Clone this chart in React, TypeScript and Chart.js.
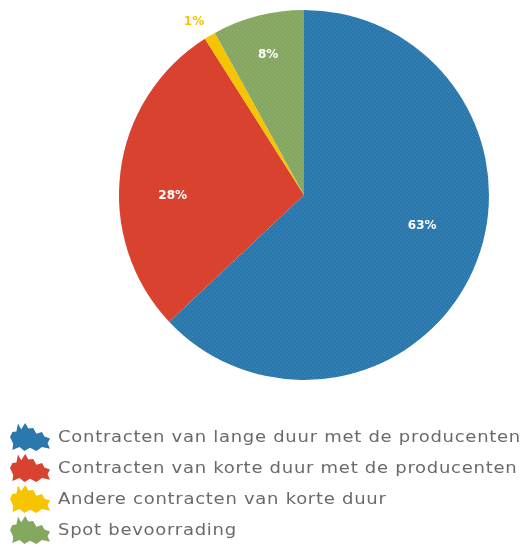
import React, { useEffect, useRef } from "react";
import { Chart, registerables } from "chart.js";

Chart.register(...registerables);

const categories = [
  "Contracten van lange duur met de producenten",
  "Contracten van korte duur met de producenten",
  "Andere contracten van korte duur",
  "Spot bevoorrading",
];
const shares = [63, 28, 1, 8];
const valueLabels = ["63%", "28%", "1%", "8%"];

const baseColors = ["#2a78ad", "#d8422f", "#f6c400", "#85a860"];
const dotColors = ["#4b95c4", null, null, "#a2be83"];
const labelColors = ["#ffffff", "#ffffff", "#f6c400", "#ffffff"];
const labelRadius = [0.66, 0.71, 1.11, 0.78];
const labelAngleShift = [-8.8, -7.4, -1.8, 0];

function makePattern(base: string, dot: string | null): CanvasPattern | string {
  if (!dot) return base;
  const c = document.createElement("canvas");
  c.width = 4;
  c.height = 4;
  const x = c.getContext("2d")!;
  x.fillStyle = base;
  x.fillRect(0, 0, 4, 4);
  x.fillStyle = dot;
  x.globalAlpha = 0.6;
  x.fillRect(0, 0, 1, 1);
  x.fillRect(2, 2, 1, 1);
  const p = x.createPattern(c, "repeat");
  return p || base;
}

const blob = [
  [0, 0.5], [0.06, 0.32], [0.16, 0.3], [0.2, 0.02], [0.28, 0.22], [0.38, 0.0],
  [0.46, 0.2], [0.58, 0.18], [0.66, 0.38], [0.8, 0.32], [0.86, 0.48], [1.0, 0.55],
  [0.94, 0.72], [1.0, 0.92], [0.8, 0.86], [0.66, 1.0], [0.5, 0.88], [0.36, 1.0],
  [0.24, 0.86], [0.06, 0.96], [0.08, 0.74],
];

const labelPlugin = {
  id: "sliceLabels",
  afterDatasetsDraw(chart: any) {
    const ctx = chart.ctx as CanvasRenderingContext2D;
    const meta = chart.getDatasetMeta(0);
    ctx.save();
    ctx.font = "bold 12px 'DejaVu Sans', sans-serif";
    ctx.textAlign = "center";
    ctx.textBaseline = "middle";
    meta.data.forEach((arc: any, i: number) => {
      const mid = (arc.startAngle + arc.endAngle) / 2 + (labelAngleShift[i] * Math.PI) / 180;
      const r = arc.outerRadius * labelRadius[i];
      ctx.fillStyle = labelColors[i];
      ctx.fillText(valueLabels[i], arc.x + Math.cos(mid) * r, arc.y + Math.sin(mid) * r);
    });
    ctx.restore();
  },
};

const legendPlugin = {
  id: "blobLegend",
  afterDraw(chart: any) {
    const ctx = chart.ctx as CanvasRenderingContext2D;
    ctx.save();
    const top = 437;
    const step = 31;
    categories.forEach((label, i) => {
      const cy = top + i * step;
      const x0 = 10, w = 40, h = 28;
      ctx.beginPath();
      blob.forEach(([px, py], k) => {
        const X = x0 + px * w;
        const Y = cy - h / 2 + py * h;
        if (k === 0) ctx.moveTo(X, Y);
        else ctx.lineTo(X, Y);
      });
      ctx.closePath();
      ctx.fillStyle = baseColors[i];
      ctx.fill();
      ctx.save();
      ctx.translate(58, cy + 1);
      ctx.scale(1.2, 1);
      ctx.font = "15px 'DejaVu Sans', sans-serif";
      (ctx as any).letterSpacing = "0.6px";
      ctx.fillStyle = "#6a6a6a";
      ctx.textAlign = "left";
      ctx.textBaseline = "middle";
      ctx.fillText(label, 0, 0);
      ctx.restore();
    });
    ctx.restore();
  },
};

export default function App() {
  const ref = useRef<HTMLCanvasElement>(null);
  useEffect(() => {
    if (!ref.current) return;
    const chart = new Chart(ref.current, {
      type: "pie",
      data: {
        labels: categories,
        datasets: [
          {
            data: shares,
            backgroundColor: baseColors.map((b, i) => makePattern(b, dotColors[i])) as any,
            borderWidth: 0,
          },
        ],
      },
      options: {
        animation: false,
        responsive: false,
        layout: { padding: { top: 10, bottom: 177, left: 118, right: 32 } },
        plugins: { legend: { display: false }, tooltip: { enabled: false } },
      },
      plugins: [labelPlugin, legendPlugin],
    });
    return () => chart.destroy();
  }, []);
  return (
    <div style={{ position: "fixed", left: 0, top: 0, width: 522, height: 557, background: "#fff" }}>
      <canvas ref={ref} width={522} height={557} />
    </div>
  );
}
